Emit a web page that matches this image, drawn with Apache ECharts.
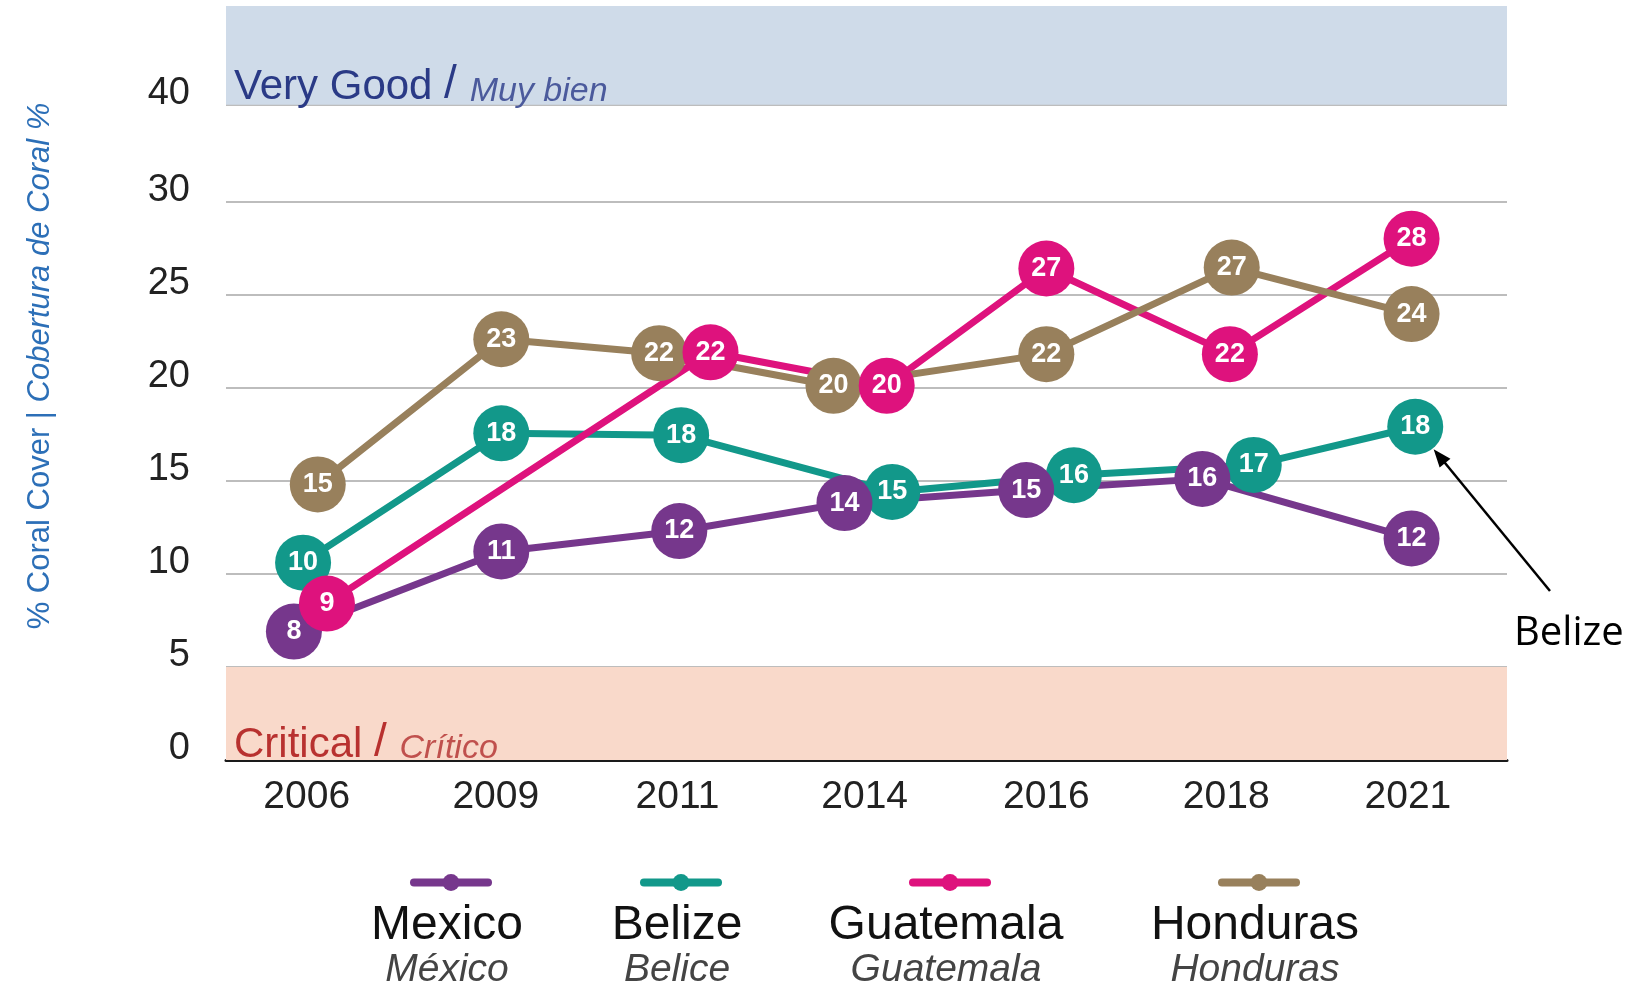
<!DOCTYPE html>
<html>
<head>
<meta charset="utf-8">
<title>Coral cover</title>
<script src="https://cdn.jsdelivr.net/npm/echarts@6/dist/echarts.min.js"></script>
<style>
  html, body { margin: 0; padding: 0; background: #fff; }
  #chart { width: 1650px; height: 985px; }
</style>
</head>
<body>
<div id="chart"></div>
<script>
// survey years, one slot each on the x axis (printed slightly unevenly)
const years = ['2006', '2009', '2011', '2014', '2016', '2018', '2021']
const yearTickSlots = [0, 1.03, 2.02, 3.04, 4.03, 5.01, 6.0]
// the axis is squeezed above 30: the "40" line sits where 35.2 would be
const yTicks = [0, 5, 10, 15, 20, 25, 30, 35.2]
const yTickLabels = ['0', '5', '10', '15', '20', '25', '30', '40']

// printed values in the bubbles
const mexicoValues = [8, 11, 12, 14, 15, 16, 12]
const belizeValues = [10, 18, 18, 15, 16, 17, 18]
const guatemalaValues = [9, null, 22, 20, 27, 22, 28]
const hondurasValues = [15, 23, 22, 20, 22, 27, 24]

// where each bubble sits: slot (year index, nudged apart) and height
const mexicoSlots = [-0.07, 1.06, 2.03, 2.93, 3.92, 4.88, 6.02]
const mexicoLevels = [6.9, 11.2, 12.3, 13.8, 14.5, 15.1, 11.9]
const belizeSlots = [-0.02, 1.06, 2.04, 3.19, 4.18, 5.16, 6.04]
const belizeLevels = [10.6, 17.55, 17.45, 14.4, 15.3, 15.85, 17.9]
const guatemalaSlots = [0.11, null, 2.2, 3.16, 4.03, 5.03, 6.02]
const guatemalaLevels = [8.4, null, 21.9, 20.1, 26.4, 21.8, 28.0]
const hondurasSlots = [0.06, 1.06, 1.92, 2.87, 4.03, 5.04, 6.02]
const hondurasLevels = [14.8, 22.6, 21.85, 20.1, 21.8, 26.45, 23.95]

const countries = [
  { name: 'Mexico', es: 'México', color: '#76378c', values: mexicoValues, slots: mexicoSlots, levels: mexicoLevels },
  { name: 'Belize', es: 'Belice', color: '#12988a', values: belizeValues, slots: belizeSlots, levels: belizeLevels },
  { name: 'Guatemala', es: 'Guatemala', color: '#de127d', values: guatemalaValues, slots: guatemalaSlots, levels: guatemalaLevels },
  { name: 'Honduras', es: 'Honduras', color: '#98805c', values: hondurasValues, slots: hondurasSlots, levels: hondurasLevels }
]

const FONT = 'Liberation Sans, Arial, sans-serif'

const points = c => c.slots
  .map((s, i) => s == null ? null : { value: [s, c.levels[i]], name: String(c.values[i]) })
  .filter(p => p)

const nearest = (list, v) => {
  let k = 0
  list.forEach((t, i) => { if (Math.abs(t - v) < Math.abs(list[k] - v)) k = i })
  return k
}

// bubbles stack: Belize under Mexico, Guatemala on top
const bubbleOrder = ['Belize', 'Mexico', 'Honduras', 'Guatemala']

const lineSeries = countries.map(c => ({
  type: 'line',
  name: c.name,
  data: points(c),
  symbol: 'circle',
  showSymbol: false,
  lineStyle: { width: 7, color: c.color, cap: 'round' },
  itemStyle: { color: c.color },
  z: 2
}))

const bubbleSeries = bubbleOrder.map(n => {
  const c = countries.find(k => k.name === n)
  return {
    type: 'scatter',
    name: c.name,
    data: points(c),
    symbolSize: 56,
    itemStyle: { color: c.color, opacity: 1 },
    label: {
      show: true,
      position: 'inside',
      formatter: '{b}',
      color: '#fff',
      fontSize: 27,
      fontWeight: 'bold',
      fontFamily: FONT
    },
    z: 3
  }
})

// coloured bands behind the grid
const bandLabel = (main, sub, dark, light) => ({
  position: 'insideBottomLeft',
  distance: 0,
  formatter: `{a|${main} }{s|/ }{b|${sub}}`,
  rich: {
    a: { fontSize: 42, lineHeight: 42, color: dark, fontFamily: FONT, verticalAlign: 'bottom' },
    s: { fontSize: 46, lineHeight: 46, color: dark, fontFamily: FONT, verticalAlign: 'bottom' },
    b: { fontSize: 34, lineHeight: 34, color: light, fontStyle: 'italic', fontFamily: FONT, verticalAlign: 'bottom' }
  }
})

const bandSeries = {
  type: 'line',
  name: 'bands',
  data: [],
  z: -1,
  silent: true,
  markArea: {
    silent: true,
    data: [
      [{
        yAxis: 35.2,
        itemStyle: { color: '#cfdbe9' },
        label: { ...bandLabel('Very Good', 'Muy bien', '#2a3a86', '#4b5a9c'), offset: [8, 4] }
      }, { yAxis: 40.5 }],
      [{
        yAxis: 0,
        itemStyle: { color: '#f9d9ca' },
        label: { ...bandLabel('Critical', 'Crítico', '#b8312f', '#c0504d'), offset: [8, 6] }
      }, { yAxis: 5 }]
    ]
  }
}

const legendCenters = [447, 677, 946, 1255]

const option = {
  backgroundColor: '#fff',
  animation: false,
  grid: { left: 226, right: 143, top: 6, bottom: 225 },
  xAxis: {
    type: 'value',
    min: -0.44,
    max: 6.54,
    axisLine: { show: true, onZero: false, lineStyle: { color: '#1a1a1a', width: 3 } },
    axisTick: { show: false, customValues: yearTickSlots },
    axisLabel: {
      customValues: yearTickSlots,
      formatter: v => years[nearest(yearTickSlots, v)],
      fontSize: 39,
      color: '#222',
      fontFamily: FONT,
      margin: 18
    },
    splitLine: { show: false }
  },
  yAxis: {
    type: 'value',
    min: 0,
    max: 40.5,
    name: '{a|% Coral Cover | }{b|Cobertura de Coral %}',
    nameLocation: 'middle',
    nameRotate: 90,
    nameGap: 170,
    nameTextStyle: {
      padding: [0, 0, 0, 34],
      rich: {
        a: { fontSize: 31, color: '#2c6fb7', fontFamily: FONT },
        b: { fontSize: 31, color: '#2c6fb7', fontStyle: 'italic', fontFamily: FONT }
      }
    },
    axisLine: { show: false },
    axisTick: { show: false, customValues: yTicks },
    axisLabel: {
      customValues: yTicks,
      formatter: v => yTickLabels[nearest(yTicks, v)],
      fontSize: 38,
      color: '#222',
      fontFamily: FONT,
      margin: 36,
      verticalAlign: 'bottom',
      lineHeight: 22
    },
    splitLine: { show: true, lineStyle: { color: '#bdbdbd', width: 2 } }
  },
  legend: countries.flatMap((c, i) => [
    {
      data: [c.name],
      left: legendCenters[i] - 37,
      top: 872,
      padding: 0,
      itemWidth: 74,
      itemHeight: 21,
      lineStyle: { width: 8 },
      formatter: () => '',
      textStyle: { fontSize: 1 }
    },
    {
      data: [c.name],
      left: legendCenters[i] - 140,
      top: 902,
      padding: 0,
      icon: 'none',
      itemWidth: 0,
      itemHeight: 0,
      formatter: name => `{a|${name}}\n{b|${c.es}}`,
      textStyle: {
        rich: {
          a: { fontSize: 48, lineHeight: 46, color: '#111', width: 270, align: 'center', fontFamily: FONT },
          b: { fontSize: 39, lineHeight: 42, color: '#444', width: 270, align: 'center', fontStyle: 'italic', fontFamily: FONT }
        }
      }
    }
  ]),
  series: [bandSeries, ...lineSeries, ...bubbleSeries]
}

const chart = echarts.init(document.getElementById('chart'))
chart.setOption(option)

// "Belize" call-out, arrow pointing at the last Belize bubble
const tip0 = chart.convertToPixel({ gridIndex: 0 }, [belizeSlots[6], belizeLevels[6]])
const tail = [1550, 591]
const dx = tail[0] - tip0[0]
const dy = tail[1] - tip0[1]
const len = Math.sqrt(dx * dx + dy * dy)
const ux = dx / len
const uy = dy / len
const tip = [tip0[0] + ux * 29, tip0[1] + uy * 29]
const head = 18
const half = 7
chart.setOption({
  graphic: [
    {
      type: 'line',
      shape: { x1: tail[0], y1: tail[1], x2: tip[0] + ux * head * 0.8, y2: tip[1] + uy * head * 0.8 },
      style: { stroke: '#000', lineWidth: 2.5 }
    },
    {
      type: 'polygon',
      shape: {
        points: [
          tip,
          [tip[0] + ux * head - uy * half, tip[1] + uy * head + ux * half],
          [tip[0] + ux * head + uy * half, tip[1] + uy * head - ux * half]
        ]
      },
      style: { fill: '#000' }
    },
    {
      type: 'text',
      left: 1514,
      top: 614,
      style: { text: 'Belize', fontSize: 40, fill: '#000', fontFamily: 'Open Sans, Noto Sans, sans-serif' }
    }
  ]
})
</script>
</body>
</html>
